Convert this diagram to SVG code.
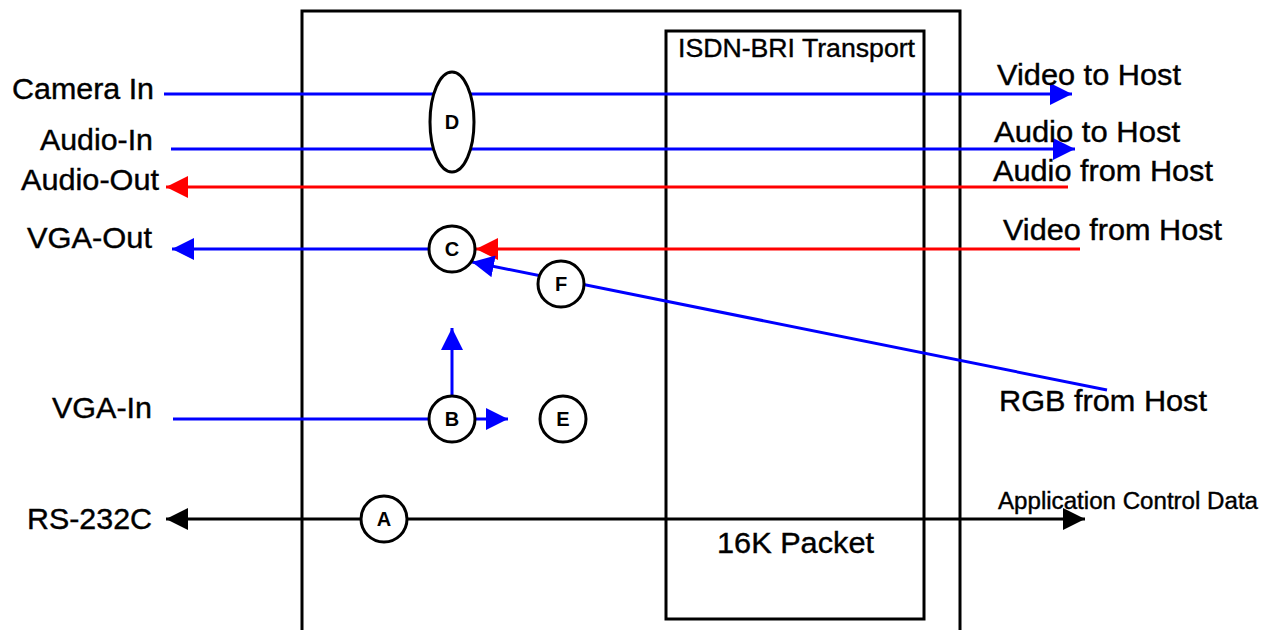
<svg xmlns="http://www.w3.org/2000/svg" width="1270" height="630" viewBox="0 0 1270 630">
<style>
text{font-family:"Liberation Sans",Arial,sans-serif;fill:#000;stroke:#000;stroke-width:0.4}
.lbl{font-size:30px}
.node{fill:#fff;stroke:#000;stroke-width:3}
.nl{font-size:20px;font-weight:bold;text-anchor:middle;stroke-width:0}
.frame{fill:none;stroke:#000;stroke-width:3}
.b{stroke:#0000ff;stroke-width:3;fill:none}
.r{stroke:#ff0000;stroke-width:3;fill:none}
.k{stroke:#000;stroke-width:3;fill:none}
</style>
<defs>
<marker id="ab" markerUnits="userSpaceOnUse" markerWidth="22" markerHeight="22" refX="20" refY="10" orient="auto-start-reverse" viewBox="0 0 20 20"><path d="M0,0 L20,10 L0,20 Z" fill="#0000ff"/></marker>
<marker id="ar" markerUnits="userSpaceOnUse" markerWidth="22" markerHeight="22" refX="20" refY="10" orient="auto-start-reverse" viewBox="0 0 20 20"><path d="M0,0 L20,10 L0,20 Z" fill="#ff0000"/></marker>
<marker id="ak" markerUnits="userSpaceOnUse" markerWidth="22" markerHeight="22" refX="20" refY="10" orient="auto-start-reverse" viewBox="0 0 20 20"><path d="M0,0 L20,10 L0,20 Z" fill="#000"/></marker>
</defs>
<rect width="1270" height="630" fill="#fff"/>
<g id="system-box"><rect class="frame" x="302" y="11" width="658" height="640"/></g>
<g id="isdn-transport"><rect class="frame" x="666" y="31" width="258" height="588"/>
<text x="678" y="57" style="font-size:26.5px" textLength="237" lengthAdjust="spacingAndGlyphs">ISDN-BRI Transport</text>
<text x="717" y="553" class="lbl" textLength="157" lengthAdjust="spacingAndGlyphs">16K Packet</text></g>
<g id="connectors">
<line class="b" x1="164" y1="94" x2="1072" y2="94" marker-end="url(#ab)"/>
<line class="b" x1="171" y1="149" x2="1075" y2="149" marker-end="url(#ab)"/>
<line class="r" x1="1068" y1="187" x2="166" y2="187" marker-end="url(#ar)"/>
<line class="b" x1="429" y1="249" x2="172" y2="249" marker-end="url(#ab)"/>
<line class="r" x1="1080" y1="249" x2="476" y2="249" marker-end="url(#ar)"/>
<line class="b" x1="1107" y1="390" x2="472" y2="262" marker-end="url(#ab)"/>
<line class="b" x1="173" y1="419" x2="429" y2="419"/>
<line class="b" x1="452" y1="396" x2="452" y2="328" marker-end="url(#ab)"/>
<line class="b" x1="475" y1="419" x2="508" y2="419" marker-end="url(#ab)"/>
<line class="k" x1="166" y1="519" x2="1085" y2="519" marker-start="url(#ak)" marker-end="url(#ak)"/>
</g>
<g id="node-D"><ellipse class="node" cx="452" cy="122" rx="22" ry="50"/><text class="nl" x="452" y="129">D</text></g>
<g id="node-C"><circle class="node" cx="452" cy="249" r="23"/><text class="nl" x="452" y="256">C</text></g>
<g id="node-F"><circle class="node" cx="561" cy="284" r="23"/><text class="nl" x="561" y="291">F</text></g>
<g id="node-B"><circle class="node" cx="452" cy="419" r="23"/><text class="nl" x="452" y="426">B</text></g>
<g id="node-E"><circle class="node" cx="563" cy="419" r="23"/><text class="nl" x="563" y="426">E</text></g>
<g id="node-A"><circle class="node" cx="384" cy="519" r="23"/><text class="nl" x="384" y="526">A</text></g>
<g id="labels">
<text class="lbl" x="12" y="99" textLength="142" lengthAdjust="spacingAndGlyphs">Camera In</text>
<text class="lbl" x="40" y="150" textLength="113" lengthAdjust="spacingAndGlyphs">Audio-In</text>
<text class="lbl" x="21" y="190" textLength="138" lengthAdjust="spacingAndGlyphs">Audio-Out</text>
<text class="lbl" x="27" y="248" textLength="125" lengthAdjust="spacingAndGlyphs">VGA-Out</text>
<text class="lbl" x="52" y="418" textLength="100" lengthAdjust="spacingAndGlyphs">VGA-In</text>
<text class="lbl" x="27" y="529" textLength="125" lengthAdjust="spacingAndGlyphs">RS-232C</text>
<text class="lbl" x="997" y="85" textLength="184" lengthAdjust="spacingAndGlyphs">Video to Host</text>
<text class="lbl" x="994" y="142" textLength="186" lengthAdjust="spacingAndGlyphs">Audio to Host</text>
<text class="lbl" x="993" y="181" textLength="220" lengthAdjust="spacingAndGlyphs">Audio from Host</text>
<text class="lbl" x="1003" y="240" textLength="219" lengthAdjust="spacingAndGlyphs">Video from Host</text>
<text class="lbl" x="999" y="411" textLength="208" lengthAdjust="spacingAndGlyphs">RGB from Host</text>
<text x="998" y="509" style="font-size:23px" textLength="260" lengthAdjust="spacingAndGlyphs">Application Control Data</text>
</g>
</svg>
